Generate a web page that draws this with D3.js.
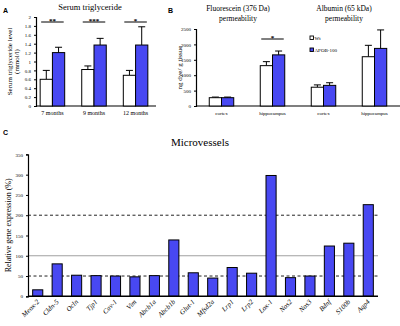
<!DOCTYPE html>
<html>
<head>
<meta charset="utf-8">
<script src="https://cdn.jsdelivr.net/npm/d3@7"></script>
<style>
  body { margin: 0; background: #fff; }
  svg text { font-family: "Liberation Serif", "DejaVu Serif", serif; fill: #000; }
  .letter { font-family: "Liberation Sans", Arial, sans-serif !important; font-weight: bold; font-size: 7px; }
  .tick text { font-size: 5px; }
</style>
</head>
<body>
<div id="chart"></div>
<script>
// ---- panel A: serum triglyceride
const aGroups = ["7 months", "9 months", "12 months"];
const aWt = [0.6, 0.82, 0.69];
const aWtErr = [0.2, 0.08, 0.11];
const aApo = [1.2, 1.37, 1.37];
const aApoErr = [0.12, 0.15, 0.41];
const aSig = ["**", "***", "*"];
const aTicks = [0, 0.2, 0.4, 0.6, 0.8, 1, 1.2, 1.4, 1.6, 1.8, 2];

// ---- panel B: permeability
const bGroups = ["cortex", "hippocampus", "cortex", "hippocampus"];
const bWt = [270, 1310, 610, 1600];
const bWtErr = [20, 130, 75, 370];
const bApo = [270, 1660, 670, 1870];
const bApoErr = [20, 125, 85, 600];
const bSig = ["", "*", "", ""];
const bTicks = [0, 500, 1000, 1500, 2000, 2500];

// ---- panel C: microvessels
const cGenes = ["Meox-2", "Cldn-5", "Ocln", "Tjp1", "Cav-1", "Vim", "Abcb1a", "Abcb1b", "Glut-1",
  "Mfsd2a", "Lrp1", "Lrp2", "Lox-1", "Nos2", "Nos3", "Bdnf", "S100b", "Aqp4"];
const cValues = [16, 80, 52, 51, 50, 48, 51, 139, 58, 45, 71, 57, 298, 46, 50, 124, 131, 226];
const cTicks = [0, 50, 100, 150, 200, 250, 300, 350];
const cDashed = [50, 200];
const cSolid = [100];

const legendItems = ["Wt", "APOB-100"];
const blue = "#4848f2";
const fills = {wt: "#fff", apo: blue};

const svg = d3.select("#chart").append("svg")
  .attr("width", 400).attr("height", 326);

function yAxis(g, scale, ticks, fmt) {
  g.call(d3.axisLeft(scale).tickValues(ticks).tickSize(2).tickPadding(3).tickFormat(fmt));
  g.select(".domain").attr("stroke-width", 1.2);
  g.selectAll(".tick text").attr("font-size", 5);
}

//grouped bars with upper error bars + significance marks
function groupedBars(cfg) {
  const {x0, y, groups, wt, wtErr, apo, apoErr, sig} = cfg;
  const x1 = d3.scaleBand().domain(["wt", "apo"]).range([0, x0.bandwidth()]);
  const rows = groups.map((g, i) => ({i, g,
    bars: [{k: "wt", v: wt[i], e: wtErr[i]}, {k: "apo", v: apo[i], e: apoErr[i]}]}));

  const gg = svg.append("g").selectAll("g").data(rows).join("g")
    .attr("transform", d => `translate(${x0(d.i)},0)`);

  const bar = gg.selectAll("g").data(d => d.bars).join("g");
  // error bars (drawn first, bar covers lower part)
  bar.append("line")
    .attr("x1", d => x1(d.k) + x1.bandwidth() / 2).attr("x2", d => x1(d.k) + x1.bandwidth() / 2)
    .attr("y1", d => y(d.v)).attr("y2", d => y(d.v + d.e))
    .attr("stroke", "#000").attr("stroke-width", 1);
  bar.append("line")
    .attr("x1", d => x1(d.k) + x1.bandwidth() / 2 - 3.5).attr("x2", d => x1(d.k) + x1.bandwidth() / 2 + 3.5)
    .attr("y1", d => y(d.v + d.e)).attr("y2", d => y(d.v + d.e))
    .attr("stroke", "#000").attr("stroke-width", 1);
  bar.append("rect")
    .attr("x", d => x1(d.k)).attr("width", x1.bandwidth())
    .attr("y", d => y(d.v)).attr("height", d => y(0) - y(d.v))
    .attr("fill", d => fills[d.k]).attr("stroke", "#000").attr("stroke-width", 1);

  const s = gg.filter(d => sig[d.i] !== "");
  s.append("line")
    .attr("x1", 1).attr("x2", x0.bandwidth() - 1)
    .attr("y1", d => cfg.sigY).attr("y2", d => cfg.sigY)
    .attr("stroke", "#000").attr("stroke-width", 1);
  s.append("text")
    .attr("x", x0.bandwidth() / 2).attr("y", cfg.sigY + 0.5)
    .attr("text-anchor", "middle").attr("font-size", 7).attr("font-weight", "bold")
    .text(d => sig[d.i]);

  // x axis labels
  svg.append("g").selectAll("text").data(rows).join("text")
    .attr("x", d => x0(d.i) + x0.bandwidth() / 2).attr("y", y(0) + 9)
    .attr("text-anchor", "middle").attr("font-size", cfg.labelSize)
    .text(d => d.g);
}

// ===== Panel A
const aX = d3.scaleBand().domain(d3.range(aGroups.length)).range([36, 152])
  .paddingInner(0.41).paddingOuter(0.1);
const aY = d3.scaleLinear().domain([0, 2]).range([106, 17]);
svg.append("g").attr("transform", "translate(36,0)")
  .call(g => yAxis(g, aY, aTicks, d => String(+d.toFixed(1))));
svg.append("line").attr("x1", 36).attr("x2", 156).attr("y1", aY(0)).attr("y2", aY(0))
  .attr("stroke", "#000").attr("stroke-width", 1.2);
groupedBars({x0: aX, y: aY, groups: aGroups, wt: aWt, wtErr: aWtErr, apo: aApo, apoErr: aApoErr,
  sig: aSig, sigY: 22, labelSize: 6});
svg.append("text").attr("x", 90).attr("y", 10).attr("text-anchor", "middle")
  .attr("font-size", 8.5).text("Serum triglyceride");
svg.append("text").attr("class", "letter").attr("x", 3).attr("y", 13).text("A");
svg.append("text").attr("transform", `translate(12,${aY(1)}) rotate(-90)`)
  .attr("text-anchor", "middle").attr("font-size", 7).text("Serum triglyceride level");
svg.append("text").attr("transform", `translate(19,${aY(1)}) rotate(-90)`)
  .attr("text-anchor", "middle").attr("font-size", 7).text("(mmol/l)");

// ===== Panel B
const bX = d3.scaleBand().domain(d3.range(bGroups.length)).range([196, 400])
  .paddingInner(0.52).paddingOuter(0.26);
const bY = d3.scaleLinear().domain([0, 2500]).range([106, 29]);
svg.append("g").attr("transform", "translate(196,0)")
  .call(g => yAxis(g, bY, bTicks, d => d));
svg.append("line").attr("x1", 196).attr("x2", 400).attr("y1", bY(0)).attr("y2", bY(0))
  .attr("stroke", "#000").attr("stroke-width", 1.2);
groupedBars({x0: bX, y: bY, groups: bGroups, wt: bWt, wtErr: bWtErr, apo: bApo, apoErr: bApoErr,
  sig: bSig, sigY: 39, labelSize: 5});
svg.append("text").attr("class", "letter").attr("x", 168).attr("y", 13).text("B");
[["Fluorescein  (376 Da)", "permeability", 238], ["Albumin (65 kDa)", "permeability", 344]]
  .forEach(([l1, l2, cx]) => {
    const t = svg.append("text").attr("text-anchor", "middle").attr("font-size", 7.5);
    t.append("tspan").attr("x", cx).attr("y", 11).text(l1);
    t.append("tspan").attr("x", cx).attr("y", 21).text(l2);
  });
svg.append("text").attr("transform", `translate(182,${bY(1250)}) rotate(-90)`)
  .attr("text-anchor", "middle").attr("font-size", 7).text("ng dye/ g tissue");

const legend = svg.append("g").selectAll("g").data(legendItems).join("g")
  .attr("transform", (d, i) => `translate(310,${36 + i * 12})`);
legend.append("rect").attr("width", 3.5).attr("height", 3.5)
  .attr("fill", (d, i) => i ? blue : "#fff").attr("stroke", "#000").attr("stroke-width", 0.9);
legend.append("text").attr("x", 4.5).attr("y", 3.6).attr("font-size", 5).text(d => d);

// ===== Panel C
const cX = d3.scaleBand().domain(cGenes).range([28, 378]).paddingInner(0.48).paddingOuter(0.24);
const cY = d3.scaleLinear().domain([0, 350]).range([296.3, 154.4]);
svg.append("text").attr("class", "letter").attr("x", 3).attr("y", 135).text("C");
svg.append("text").attr("x", 200).attr("y", 146).attr("text-anchor", "middle")
  .attr("font-size", 11).text("Microvessels");

svg.append("g").selectAll("line").data(cDashed).join("line")
  .attr("x1", 28).attr("x2", 378).attr("y1", d => cY(d)).attr("y2", d => cY(d))
  .attr("stroke", "#222").attr("stroke-width", 1).attr("stroke-dasharray", "3,2.5");
svg.append("g").selectAll("line").data(cSolid).join("line")
  .attr("x1", 28).attr("x2", 378).attr("y1", d => cY(d)).attr("y2", d => cY(d))
  .attr("stroke", "#a0a0a0").attr("stroke-width", 1);

svg.append("g").selectAll("rect").data(cGenes).join("rect")
  .attr("x", d => cX(d)).attr("width", cX.bandwidth())
  .attr("y", (d, i) => cY(cValues[i])).attr("height", (d, i) => cY(0) - cY(cValues[i]))
  .attr("fill", blue).attr("stroke", "#000").attr("stroke-width", 1);

svg.append("g").attr("transform", "translate(28,0)")
  .call(g => yAxis(g, cY, cTicks, d => d));
svg.append("line").attr("x1", 28).attr("x2", 378).attr("y1", cY(0)).attr("y2", cY(0))
  .attr("stroke", "#000").attr("stroke-width", 1.4);

svg.append("g").selectAll("text").data(cGenes).join("text")
  .attr("transform", d => `translate(${cX(d) + cX.bandwidth() / 2 + 2},${cY(0) + 6}) rotate(-45)`)
  .attr("text-anchor", "end").attr("font-size", 7).attr("font-style", "italic")
  .text(d => d);
svg.append("text").attr("transform", `translate(11,${cY(175)}) rotate(-90)`)
  .attr("text-anchor", "middle").attr("font-size", 8).text("Relative gene expression (%)");
</script>
</body>
</html>
